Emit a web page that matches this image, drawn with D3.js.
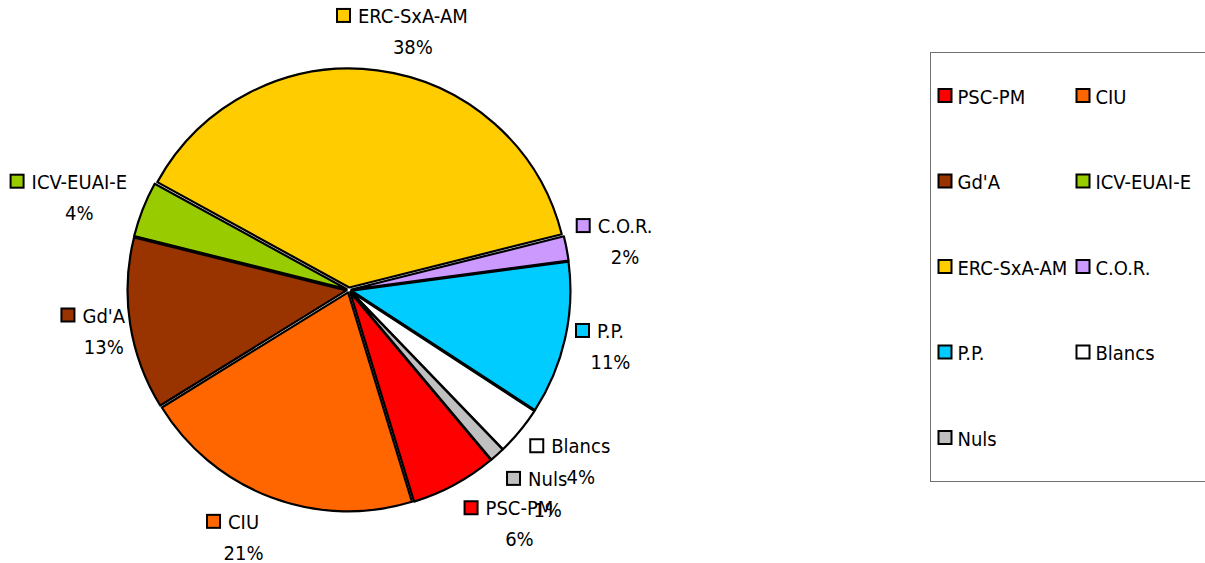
<!DOCTYPE html>
<html>
<head>
<meta charset="utf-8">
<script src="https://cdn.jsdelivr.net/npm/d3@7"></script>
<style>
    body { margin: 0; background: #fff; }
    svg text { font-family: "DejaVu Sans Condensed", "DejaVu Sans", sans-serif; font-stretch: condensed; font-size: 20px; fill: #000; }
</style>
</head>
<body>
<svg id="chart" width="1205" height="563"></svg>
<script>
const categories = ["PSC-PM", "CIU", "Gd'A", "ICV-EUAI-E", "ERC-SxA-AM", "C.O.R.", "P.P.", "Blancs", "Nuls"];
const shares = [6.4, 20.9, 12.7, 4.1, 38.1, 1.8, 11.3, 3.6, 1.1];
const colors = ["#ff0000", "#ff6600", "#993300", "#99cc00", "#ffcc00", "#cc99ff", "#00ccff", "#ffffff", "#c0c0c0"];

const svg = d3.select("#chart");

const cx = 349, cy = 290;
const radius = 219;
const explode = 2.5;
const labelGap = 234;
const startDeg = 140;

// hand-moved labels, as in the original sheet
const labelNudge = {
    "ERC-SxA-AM": [19, 4], "ICV-EUAI-E": [-4, 15], "Gd'A": [10, -1],
    "C.O.R.": [-6, 3], "P.P.": [-6, -2], "Blancs": [5, -7],
    "Nuls": [6, 2], "PSC-PM": [28, -9], "CIU": [-23, -1]
};

const data = categories.map((name, i) => ({ name, value: shares[i], color: colors[i] }));
const total = d3.sum(shares);
const pct = d3.format(".0%");

const pie = d3.pie()
    .sort(null)
    .value(d => d.value)
    .startAngle(startDeg * Math.PI / 180)
    .endAngle((startDeg + 360) * Math.PI / 180);

const arc = d3.arc().innerRadius(0).outerRadius(radius);
const arcs = pie(data);

const mid = d => (d.startAngle + d.endAngle) / 2;

const view = svg.append("g").attr("transform", `translate(${cx}, ${cy})`);

view.selectAll("path")
    .data(arcs)
    .enter().append("path")
    .attr("d", arc)
    .attr("transform", d => {
        const a = mid(d);
        return `translate(${explode * Math.sin(a)}, ${-explode * Math.cos(a)})`;
    })
    .attr("fill", d => d.data.color)
    .attr("stroke", "#000")
    .attr("stroke-width", 2.2)
    .attr("stroke-linejoin", "round");

// data labels: key + name, percent on the line below
const keySize = 13, keyGap = 7, lineStep = 31, blockH = 46;

const labels = view.selectAll("g.label")
    .data(arcs)
    .enter().append("g")
    .attr("class", "label");

labels.each(function(d) {
    const g = d3.select(this);
    const name = g.append("text").text(d.data.name);
    const tw = name.node().getComputedTextLength();
    const w = keySize + 2 + keyGap + tw;
    const a = mid(d);
    const s = Math.sin(a), c = -Math.cos(a);
    const dist = labelGap + Math.abs(s) * w / 2 + Math.abs(c) * blockH / 2;
    const [nx, ny] = labelNudge[d.data.name] || [0, 0];
    const bx = dist * s - w / 2 + nx;
    const by = dist * c - blockH / 2 + ny;

    g.insert("rect", "text")
        .attr("x", bx + 1)
        .attr("y", by + 1)
        .attr("width", keySize)
        .attr("height", keySize)
        .attr("fill", d.data.color)
        .attr("stroke", "#000")
        .attr("stroke-width", 2);

    const tx = bx + keySize + 2 + keyGap;
    name.attr("x", tx).attr("y", by + 15);

    g.append("text")
        .attr("x", tx + tw / 2)
        .attr("y", by + 15 + lineStep)
        .attr("text-anchor", "middle")
        .text(pct(d.data.value / total));
});

// legend
const legend = svg.append("g").attr("transform", "translate(930.5, 52.5)");

legend.append("rect")
    .attr("width", 300)
    .attr("height", 429)
    .attr("fill", "none")
    .attr("stroke", "#707070")
    .attr("stroke-width", 1);

const colX = d3.scaleOrdinal().domain([0, 1]).range([7, 145]);
const rowY = d3.scaleLinear().domain([0, 4]).range([43.5, 385.5]);

const item = legend.selectAll("g.item")
    .data(data)
    .enter().append("g")
    .attr("class", "item")
    .attr("transform", (d, i) => `translate(${colX(i % 2)}, ${rowY(Math.floor(i / 2))})`);

item.append("rect")
    .attr("x", 1)
    .attr("y", -7)
    .attr("width", keySize)
    .attr("height", keySize)
    .attr("fill", d => d.color)
    .attr("stroke", "#000")
    .attr("stroke-width", 2);

item.append("text")
    .attr("x", 20)
    .attr("y", 7.5)
    .text(d => d.name);
</script>
</body>
</html>
